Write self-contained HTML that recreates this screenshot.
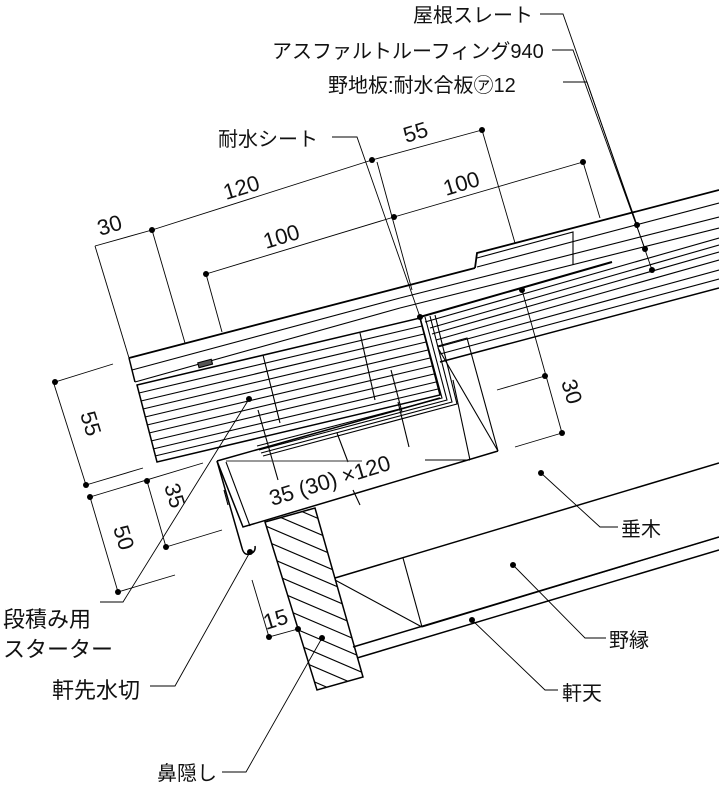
<!DOCTYPE html>
<html><head><meta charset="utf-8">
<style>
html,body{margin:0;padding:0;background:#fff;}
svg{display:block;}
text{font-family:"Liberation Sans","Noto Sans CJK JP",sans-serif;fill:#111;}
.l{font-size:20px;}
.lb{font-size:22px;}
.d{font-size:22px;}
</style></head>
<body>
<svg width="719" height="789" viewBox="0 0 719 789" xmlns="http://www.w3.org/2000/svg">
<g stroke="#000" fill="none" stroke-width="1.1">
<polyline points="475,268 477,253 719,190" stroke-width="1.8"/>
<line x1="129" y1="358" x2="475" y2="268" stroke-width="1.8"/>
<line x1="477" y1="267" x2="719" y2="203"/>
<polyline points="477,258 573,232 573,265"/>
<line x1="400" y1="298" x2="719" y2="217"/>
<line x1="400" y1="308" x2="719" y2="228"/>
<line x1="132" y1="370" x2="400" y2="298"/>
<line x1="135" y1="382" x2="400" y2="308"/>
<line x1="129" y1="358" x2="135" y2="382" stroke-width="1.5"/>
<line x1="420" y1="317" x2="612" y2="262" stroke-width="2"/>
<line x1="425" y1="322" x2="719" y2="238"/>
<line x1="430" y1="328" x2="719" y2="245"/>
<line x1="432" y1="334" x2="719" y2="252"/>
<line x1="436" y1="340" x2="719" y2="260"/>
<line x1="438" y1="347" x2="719" y2="270"/>
<line x1="440" y1="354" x2="719" y2="279"/>
<line x1="440" y1="362" x2="719" y2="288" stroke-width="1.5"/>
<polygon points="137,385 420,318 440,395 157,462" stroke-width="1.5"/>
<line x1="139" y1="393" x2="422" y2="326"/>
<line x1="141" y1="401" x2="424" y2="334"/>
<line x1="143" y1="409" x2="426" y2="342"/>
<line x1="145" y1="417" x2="428" y2="350"/>
<line x1="147" y1="425" x2="430" y2="358"/>
<line x1="149" y1="433" x2="432" y2="366"/>
<line x1="151" y1="441" x2="434" y2="374"/>
<line x1="153" y1="449" x2="436" y2="382"/>
<line x1="155" y1="456" x2="438" y2="389"/>
<rect x="198" y="361" width="14" height="5" fill="#555" transform="rotate(-15 205 363)"/>
<polyline points="420,317 442,398 257,446"/>
<polyline points="425,317 447,400 259,450"/>
<polyline points="430,316 452,402 261,453"/>
<polyline points="435,315 457,404 263,456"/>
<line x1="263" y1="355" x2="280" y2="423"/>
<line x1="360" y1="333" x2="375" y2="400"/>
<line x1="391" y1="370" x2="402" y2="412"/>
<line x1="398" y1="402" x2="409" y2="447"/>
<line x1="258" y1="410" x2="278" y2="480"/>
<line x1="337" y1="433" x2="348" y2="462"/>
<line x1="353" y1="490" x2="360" y2="505"/>
<polyline points="438,346 467,338 498,451"/>
<line x1="438" y1="348" x2="498" y2="451"/>
<line x1="453" y1="380" x2="470" y2="460"/>
<polyline points="217,461 243,527 498,451" stroke-width="1.5"/>
<line x1="217" y1="461" x2="440" y2="398" stroke-width="1.5"/>
<line x1="226" y1="462" x2="250" y2="526"/>
<line x1="226" y1="461" x2="362" y2="461" stroke="#333"/>
<line x1="425" y1="460" x2="470" y2="460"/>
<path d="M217,461 L242,548 Q244,556 250,554 Q256,552 255,546" stroke-width="1.5"/>
<line x1="224" y1="490" x2="228" y2="505"/>
<polygon points="265,522 315,508 363,677 317,690" stroke-width="1.5"/>
<clipPath id="hc"><polygon points="265,522 315,508 363,677 317,690"/></clipPath>
<g clip-path="url(#hc)">
<line x1="240" y1="500" x2="380" y2="560"/><line x1="240" y1="515" x2="380" y2="575"/>
<line x1="240" y1="530" x2="380" y2="590"/><line x1="240" y1="545" x2="380" y2="605"/>
<line x1="240" y1="560" x2="380" y2="620"/><line x1="240" y1="575" x2="380" y2="635"/>
<line x1="240" y1="590" x2="380" y2="650"/><line x1="240" y1="605" x2="380" y2="665"/>
<line x1="240" y1="620" x2="380" y2="680"/><line x1="240" y1="635" x2="380" y2="695"/>
<line x1="240" y1="650" x2="380" y2="710"/><line x1="240" y1="665" x2="380" y2="725"/>
<line x1="240" y1="680" x2="380" y2="740"/><line x1="240" y1="485" x2="380" y2="545"/>
</g>
<line x1="335" y1="578" x2="719" y2="463" stroke-width="1.5"/>
<line x1="403" y1="558" x2="422" y2="627"/>
<line x1="335" y1="580" x2="422" y2="627"/>
<line x1="353" y1="647" x2="719" y2="537" stroke-width="1.5"/>
<line x1="357" y1="658" x2="719" y2="550" stroke-width="1.5"/>
<line x1="422" y1="627" x2="719" y2="537"/>
</g>
<g stroke="#000" fill="none" stroke-width="0.9">
<polyline points="95,246 152,230 372,160 482,130"/>
<line x1="95" y1="246" x2="129" y2="358"/>
<line x1="152" y1="230" x2="185" y2="343"/>
<line x1="377" y1="162" x2="412" y2="290"/>
<line x1="482" y1="130" x2="515" y2="243"/>
<polyline points="206,274 394,217 583,162"/>
<line x1="206" y1="274" x2="222" y2="332"/>
<line x1="583" y1="162" x2="600" y2="218"/>
<polyline points="332,137 357,137 420,317"/>
<polyline points="540,14 563,14 637,225"/>
<polyline points="552,50 573,50 645,249"/>
<polyline points="563,82 587,82 652,270"/>
<line x1="53" y1="381" x2="86" y2="485"/>
<line x1="55" y1="382" x2="113" y2="364"/>
<line x1="86" y1="485" x2="143" y2="468"/>
<line x1="147" y1="481" x2="166" y2="547"/>
<line x1="90" y1="497" x2="203" y2="463"/>
<line x1="166" y1="547" x2="222" y2="530"/>
<line x1="90" y1="497" x2="118" y2="592"/>
<line x1="118" y1="592" x2="175" y2="575"/>
<line x1="252" y1="580" x2="269" y2="637"/>
<line x1="269" y1="637" x2="298" y2="629"/>
<line x1="522" y1="290" x2="562" y2="433"/>
<line x1="497" y1="390" x2="545" y2="376"/>
<line x1="515" y1="447" x2="562" y2="433"/>
<polyline points="100,602 123,602 249,399"/>
<polyline points="150,686 175,686 250,552"/>
<polyline points="222,772 246,772 322,638"/>
<polyline points="541,473 600,527 618,527"/>
<polyline points="513,565 585,638 606,638"/>
<polyline points="472,620 545,690 558,690"/>
</g>
<g fill="#000">
<circle cx="152" cy="230" r="3"/><circle cx="372" cy="160" r="3"/><circle cx="482" cy="130" r="3"/>
<circle cx="206" cy="274" r="3"/><circle cx="394" cy="217" r="3"/><circle cx="583" cy="162" r="3"/>
<circle cx="420" cy="317" r="3"/><circle cx="637" cy="225" r="3"/><circle cx="645" cy="249" r="3"/><circle cx="652" cy="270" r="3"/>
<circle cx="522" cy="290" r="3"/>
<circle cx="55" cy="382" r="3"/><circle cx="86" cy="485" r="3"/><circle cx="147" cy="481" r="3"/><circle cx="166" cy="547" r="3"/>
<circle cx="90" cy="497" r="3"/><circle cx="118" cy="592" r="3"/>
<circle cx="269" cy="637" r="3"/><circle cx="298" cy="629" r="3"/>
<circle cx="545" cy="376" r="3"/><circle cx="562" cy="433" r="3"/>
<circle cx="249" cy="399" r="3"/><circle cx="250" cy="552" r="3"/><circle cx="322" cy="638" r="3"/>
<circle cx="541" cy="473" r="3"/><circle cx="513" cy="565" r="3"/><circle cx="472" cy="620" r="3"/>
</g>
<text class="d" transform="translate(100,236) rotate(-17)">30</text>
<text class="d" transform="translate(226,200) rotate(-17)">120</text>
<text class="d" transform="translate(406,143) rotate(-17)">55</text>
<text class="d" transform="translate(266,249) rotate(-17)">100</text>
<text class="d" transform="translate(446,196) rotate(-17)">100</text>
<text class="d" transform="translate(272,506) rotate(-17)">35 (30) ×120</text>
<text class="d" transform="translate(80,414) rotate(73)">55</text>
<text class="d" transform="translate(164,486) rotate(73)">35</text>
<text class="d" transform="translate(113,528) rotate(73)">50</text>
<text class="d" transform="translate(561,382) rotate(73)">30</text>
<text class="d" transform="translate(266,630) rotate(-17)">15</text>
<text class="l" x="413" y="22">屋根スレート</text>
<text class="l" x="272" y="58">アスファルトルーフィング940</text>
<text class="l" x="328" y="92">野地板:耐水合板㋐12</text>
<text class="l" x="218" y="146">耐水シート</text>
<text class="lb" x="3" y="627">段積み用</text>
<text class="lb" x="3" y="657">スターター</text>
<text class="lb" x="52" y="698">軒先水切</text>
<text class="l" x="157" y="780">鼻隠し</text>
<text class="l" x="621" y="536">垂木</text>
<text class="l" x="609" y="647">野縁</text>
<text class="l" x="562" y="700">軒天</text>
</svg>
</body></html>
